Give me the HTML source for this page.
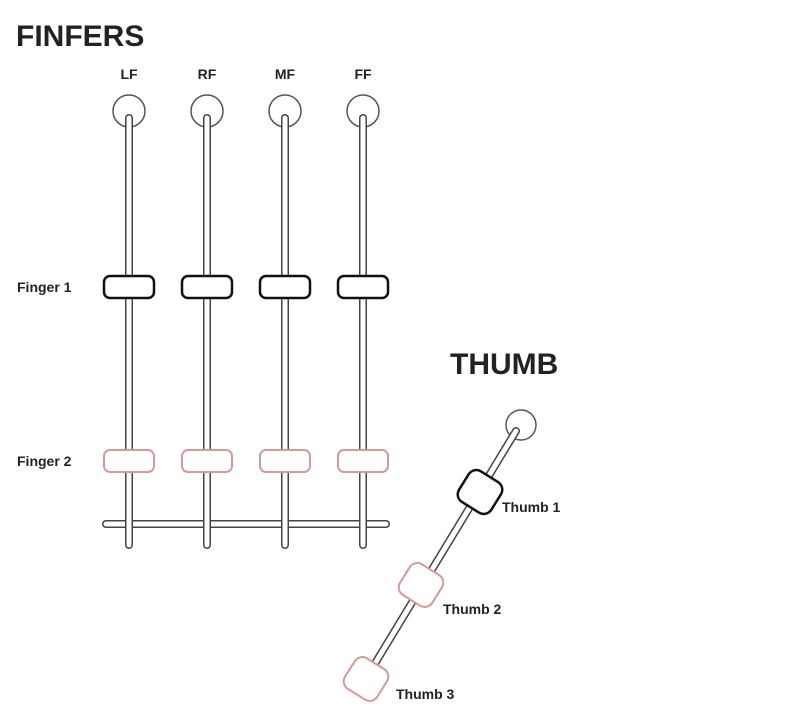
<!DOCTYPE html>
<html><head><style>body{margin:0;background:#fff}svg{display:block}</style></head><body>
<svg width="800" height="712" xmlns="http://www.w3.org/2000/svg" font-family="Liberation Sans, sans-serif" font-weight="bold">
<text x="16" y="46" font-size="30" fill="#222">FINFERS</text>
<text x="450" y="374" font-size="30" fill="#222">THUMB</text>
<g font-size="14" fill="#222" text-anchor="middle">
<text x="129" y="79">LF</text><text x="207" y="79">RF</text><text x="285" y="79">MF</text><text x="363" y="79">FF</text>
</g>
<g font-size="14" fill="#222">
<text x="17" y="292">Finger 1</text><text x="17" y="466">Finger 2</text>
<text x="502" y="512">Thumb 1</text><text x="443" y="614">Thumb 2</text><text x="396" y="699">Thumb 3</text>
</g>
<g fill="#fff" stroke="#555" stroke-width="1.5">
<circle cx="129" cy="111" r="16"/><circle cx="207" cy="111" r="16"/><circle cx="285" cy="111" r="16"/><circle cx="363" cy="111" r="16"/>
<circle cx="521" cy="425" r="15"/>
</g>
<line x1="106" y1="524" x2="386" y2="524" stroke="#444" stroke-width="8" stroke-linecap="round"/>
<line x1="106" y1="524" x2="386" y2="524" stroke="#fff" stroke-width="5" stroke-linecap="round"/>
<g stroke="#444" stroke-width="8" stroke-linecap="round">
<line x1="129" y1="118" x2="129" y2="545"/><line x1="207" y1="118" x2="207" y2="545"/><line x1="285" y1="118" x2="285" y2="545"/><line x1="363" y1="118" x2="363" y2="545"/>
<line x1="516" y1="431" x2="368" y2="675"/>
</g>
<g stroke="#fff" stroke-width="5" stroke-linecap="round">
<line x1="129" y1="118" x2="129" y2="545"/><line x1="207" y1="118" x2="207" y2="545"/><line x1="285" y1="118" x2="285" y2="545"/><line x1="363" y1="118" x2="363" y2="545"/>
<line x1="516" y1="431" x2="368" y2="675"/>
</g>
<g fill="#fff" stroke="#111" stroke-width="2.5">
<rect x="104" y="276" width="50" height="22" rx="6"/><rect x="182" y="276" width="50" height="22" rx="6"/><rect x="260" y="276" width="50" height="22" rx="6"/><rect x="338" y="276" width="50" height="22" rx="6"/>
<rect x="-19" y="-18" width="38" height="36" rx="9" transform="translate(480,492) rotate(32)"/>
</g>
<g fill="#fff" stroke="#d49a98" stroke-width="2">
<rect x="104" y="450" width="50" height="22" rx="6"/><rect x="182" y="450" width="50" height="22" rx="6"/><rect x="260" y="450" width="50" height="22" rx="6"/><rect x="338" y="450" width="50" height="22" rx="6"/>
<rect x="-19" y="-18" width="38" height="36" rx="9" transform="translate(421,585) rotate(32)"/>
<rect x="-19" y="-18" width="38" height="36" rx="9" transform="translate(366,679) rotate(32)"/>
</g>
</svg>
</body></html>
